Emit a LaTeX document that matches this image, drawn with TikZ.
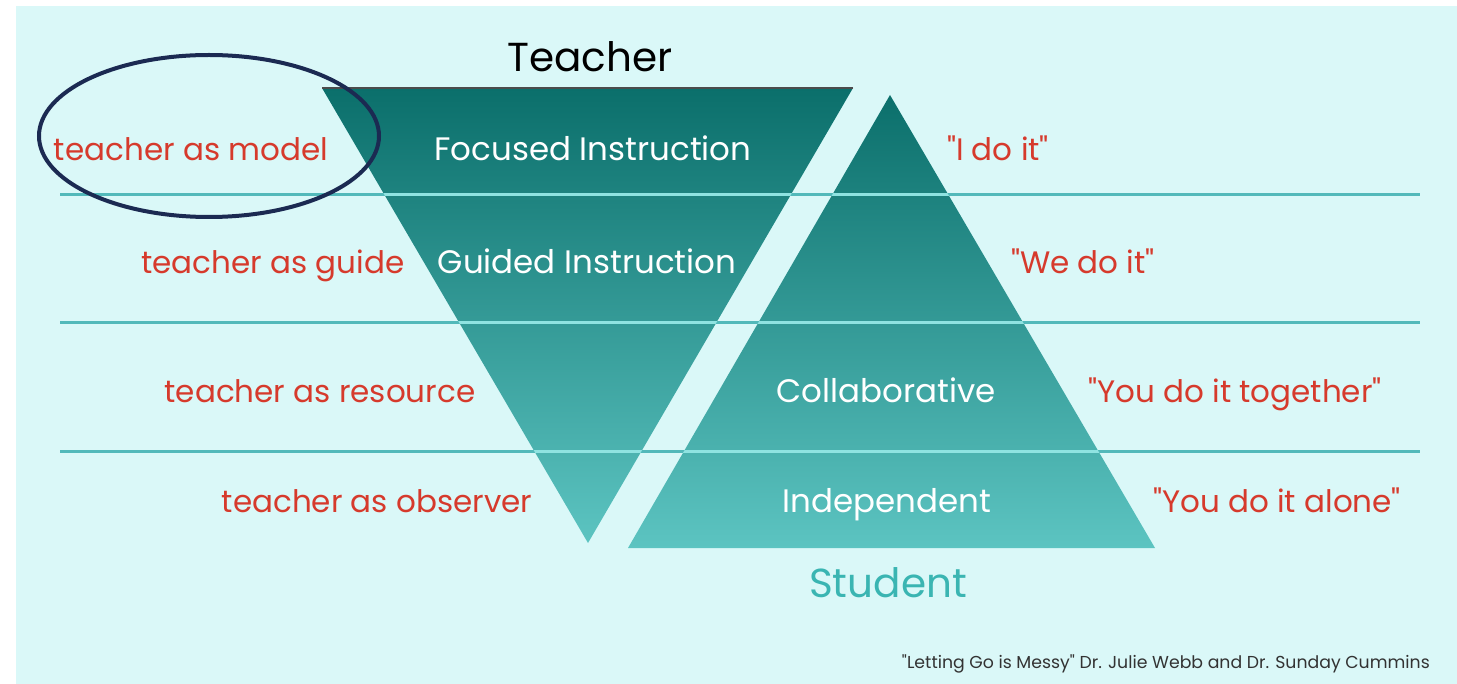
\documentclass[tikz,border=0pt]{standalone}
\usepackage{fontspec}
\setmainfont{Poppins}[Ligatures=TeXOff]
\usetikzlibrary{positioning,shapes.geometric}

\definecolor{bgcyan}{HTML}{DAF8F8}
\definecolor{tealtop}{HTML}{0B6F6B}
\definecolor{tealbot}{HTML}{5CC4C1}
\definecolor{bandteal}{HTML}{52B9BA}
\definecolor{bandlight}{HTML}{8FE3E1}
\definecolor{labelred}{HTML}{D63A2C}
\definecolor{ringnavy}{HTML}{1B2A52}
\definecolor{studteal}{HTML}{3AB5B2}
\definecolor{citegray}{HTML}{333333}

\tikzset{
  rolelabel/.style={text=labelred, anchor=base, inner sep=0pt,
    font=\fontsize{31}{35}\selectfont},
  stagelabel/.style={text=white, anchor=base, inner sep=0pt,
    font=\fontsize{32.5}{36}\selectfont},
  endlabel/.style={anchor=base, inner sep=0pt,
    font=\fontsize{40.5}{44}\selectfont},
  bandline/.style={draw=bandteal, line width=3pt},
}

\begin{document}
\begin{tikzpicture}[x=1pt,y=-1pt]
 \useasboundingbox (0,0) rectangle (1457,684);
 \fill[white] (0,0) rectangle (1457,684);
 \fill[bgcyan] (16,6) rectangle (1457,684);
 % the two triangles
 \shade[top color=tealtop, bottom color=tealbot]
   (322,88) -- (853,88) -- (588,543) -- cycle;
 \shade[top color=tealtop, bottom color=tealbot]
   (890,95) -- (1155,548) -- (628,548) -- cycle;
 \draw[black!70, line width=1.5pt] (322,88) -- (853,88);
 % band lines
 \foreach \yp in {195,323,452} {
   \draw[bandline] (60,\yp) -- (1420,\yp);
 }
 \begin{scope}
   \clip (322,88) -- (853,88) -- (588,543) -- cycle
     (890,95) -- (1155,548) -- (628,548) -- cycle;
   \foreach \yp in {195,323,452} {
     \draw[bandline, draw=bandlight] (300,\yp) -- (1180,\yp);
   }
 \end{scope}
 % roles of the teacher
 \foreach \txt/\xp/\yp [count=\i] in {
   teacher as model/191/161, teacher as guide/273/274,
   teacher as resource/320/403, teacher as observer/377/512
 } {
   \node[rolelabel] (role\i) at (\xp,\yp) {\txt};
 }
 % what is said
 \foreach \txt/\xp/\yp [count=\i] in {
   "I do it"/998/161, "We do it"/1083/274,
   "You do it together"/1235/403, "You do it alone"/1277/512
 } {
   \node[rolelabel] (say\i) at (\xp,\yp) {\txt};
 }
 % stages
 \foreach \txt/\xp/\yp [count=\i] in {
   Focused Instruction/593/161, Guided Instruction/587/274,
   Collaborative/886/403, Independent/887/512
 } {
   \node[stagelabel] (stage\i) at (\xp,\yp) {\txt};
 }
 \node[endlabel, text=black] (teacher) at (590,72) {Teacher};
 \node[endlabel, text=studteal] (student) at (888,597) {Student};
 \node[text=citegray, anchor=base east, inner sep=0pt,
   font=\fontsize{17.3}{19}\selectfont] (cite) at (1430,668)
   {"Letting Go is Messy" Dr. Julie Webb and Dr. Sunday Cummins};
 % ring round the first role
 \node[ellipse, draw=ringnavy, line width=4pt, minimum width=340pt,
   minimum height=162pt] (ring) at (209,136) {};
\end{tikzpicture}
\end{document}
